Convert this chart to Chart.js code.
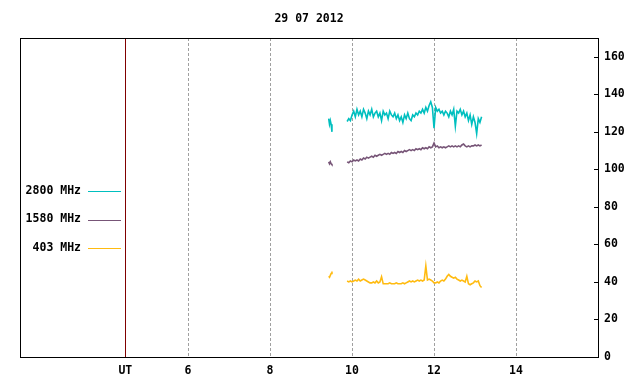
<!DOCTYPE html>
<html lang="en">
<head>
  <meta charset="UTF-8">
  <title>29 07 2012</title>
  <script src="https://cdn.jsdelivr.net/npm/chart.js"></script>
  <style>
    body { margin: 0; background: #fff; }
  </style>
</head>
<body>
  <canvas id="grafico" width="640" height="384"></canvas>
  <script>
    const titulo = '29 07 2012';
    const frequencias = ['2800 MHz', '1580 MHz', '403 MHz'];
    const cores = ['#00bfbf', '#775577', '#ffbb11'];

    // horas UT (null separa os dois trechos)
    const horas = [
      9.43, 9.45, 9.47, 9.49, 9.51, 9.70,
      9.88, 9.92, 9.96,
      10.00, 10.04, 10.08, 10.12, 10.16, 10.20, 10.24, 10.28, 10.32, 10.36, 10.40, 10.44, 10.48,
      10.52, 10.56, 10.60, 10.64, 10.68, 10.72, 10.76, 10.80, 10.84, 10.88, 10.92, 10.96,
      11.00, 11.04, 11.08, 11.12, 11.16, 11.20, 11.24, 11.28, 11.32, 11.36, 11.40, 11.44, 11.48,
      11.52, 11.56, 11.60, 11.64, 11.68, 11.72, 11.76, 11.80, 11.84, 11.88, 11.92, 11.96,
      12.00, 12.04, 12.08, 12.12, 12.16, 12.20, 12.24, 12.28, 12.32, 12.36, 12.40, 12.44, 12.48,
      12.52, 12.56, 12.60, 12.64, 12.68, 12.72, 12.76, 12.80, 12.84, 12.88, 12.92, 12.96,
      13.00, 13.04, 13.08, 13.12, 13.16
    ];

    const fluxo2800 = [
      127, 124, 126, 124, 120, null,
      125.5, 127, 126,
      129, 131, 128, 132, 129, 131, 128, 132, 130, 127, 131, 129, 132,
      128, 130, 131, 128, 130, 126, 131, 129, 130, 127, 131, 129,
      128, 130, 127, 129, 126, 128, 125, 129, 127, 130, 127, 126, 129,
      128, 130, 129, 131, 130, 132, 130, 133, 131, 134, 136, 133,
      122, 133, 131, 132, 130, 131, 129, 131, 130, 128, 131, 129, 132,
      123, 131, 130, 132, 129, 131, 128, 130, 126, 129, 124, 128,
      125, 119, 127, 125, 128
    ];

    const fluxo1580 = [
      104, 103, 104, 103, 102.5, null,
      104, 103.5, 104.5,
      104, 105, 104.5, 105, 104.5, 105.5, 105, 106, 105.5, 106.5, 106, 106.5, 107,
      106.5, 107.5, 107, 107.5, 108, 107.5, 108, 108.5, 108, 108.5, 108, 109,
      108.5, 109, 108.5, 109.5, 109, 109.5, 109, 110, 109.5, 110, 110.5, 110, 110.5,
      110, 111, 110.5, 111, 110.5, 111.5, 111, 111.5, 111, 112, 111.5, 112,
      114, 112, 112.5, 111.5, 112, 111.5, 112, 111.5, 112, 112.5, 112, 112.5, 112,
      112.5, 112, 112.5, 112, 113, 113.5, 112.5, 112, 112.5, 112, 112.5, 112.5,
      113, 112.5, 113, 112.5, 113
    ];

    const fluxo403 = [
      43, 42.5, 43.5, 44.5, 45.5, null,
      40.5, 40, 40.5,
      40, 40.5, 41, 40.5, 41.5, 40.5, 41, 41.5, 41, 40.5, 40, 39.5, 39.5,
      40, 39.5, 40.5, 39.5, 40, 42.8, 39, 39, 39, 39, 39.5, 39,
      39, 39, 39.5, 39, 39, 39, 39.5, 39, 39.5, 40, 40.5, 40, 40.5,
      40, 40.5, 41, 40.5, 41, 40.5, 41, 48.5, 41, 41.5, 41, 40.5,
      39.5, 39.5, 40, 39.5, 40.5, 41, 40.5, 41.5, 43, 44, 43, 42.5, 42,
      42.5, 41.5, 41, 40.5, 41, 40.5, 40, 43, 39, 38.5, 39, 39.5,
      40.5, 40, 40.5, 38, 37
    ];

    const posUT = 4.47;
    const ticksX = [posUT, 6, 8, 10, 12, 14];
    const ticksY = [0, 20, 40, 60, 80, 100, 120, 140, 160];

    const fonte = { family: "'DejaVu Sans Mono', monospace", size: 11.5, weight: 'bold' };
    const fonteCss = "bold 11.5px 'DejaVu Sans Mono', monospace";

    const series = [fluxo2800, fluxo1580, fluxo403];

    // moldura, linha UT, marcas do eixo y, título e legenda
    const moldura = {
      id: 'moldura',
      afterDraw(chart) {
        const { ctx, chartArea: a, scales } = chart;
        ctx.save();
        ctx.strokeStyle = '#000';
        ctx.lineWidth = 1;
        ctx.strokeRect(a.left + 0.5, a.top + 0.5, a.right - a.left, a.bottom - a.top);

        const xUT = Math.round(scales.x.getPixelForValue(posUT)) + 0.5;
        ctx.strokeStyle = '#800000';
        ctx.beginPath();
        ctx.moveTo(xUT, a.top + 1);
        ctx.lineTo(xUT, a.bottom);
        ctx.stroke();

        ctx.strokeStyle = '#000';
        ticksY.forEach(v => {
          const y = Math.round(scales.y.getPixelForValue(v)) + 0.5;
          ctx.beginPath();
          ctx.moveTo(a.right - 4, y);
          ctx.lineTo(a.right, y);
          ctx.stroke();
        });

        ctx.fillStyle = '#000';
        ctx.font = fonteCss;
        ctx.textAlign = 'center';
        ctx.textBaseline = 'middle';
        ctx.fillText(titulo, (a.left + a.right) / 2, 19);

        ctx.textAlign = 'right';
        frequencias.forEach((f, i) => {
          const y = 191 + i * 28.5;
          ctx.fillText(f, 81, y);
          ctx.strokeStyle = cores[i];
          ctx.beginPath();
          ctx.moveTo(88, Math.round(y) + 0.5);
          ctx.lineTo(121, Math.round(y) + 0.5);
          ctx.stroke();
        });
        ctx.restore();
      }
    };

    new Chart(document.getElementById('grafico'), {
      type: 'line',
      data: {
        datasets: series.map((s, i) => ({
          label: frequencias[i],
          data: horas.map((h, j) => ({ x: h, y: s[j] })),
          borderColor: cores[i],
          borderWidth: 1.6,
          pointRadius: 0,
          tension: 0,
          spanGaps: false
        }))
      },
      options: {
        responsive: false,
        animation: false,
        layout: { padding: { left: 20, top: 38, right: 0, bottom: 0 } },
        plugins: { legend: { display: false }, title: { display: false }, tooltip: { enabled: false } },
        scales: {
          x: {
            type: 'linear',
            min: 1.9,
            max: 16,
            afterBuildTicks: s => { s.ticks = ticksX.map(v => ({ value: v })); },
            afterFit: s => { s.height = 27; },
            grid: {
              color: c => c.tick && c.tick.value === posUT ? 'rgba(0,0,0,0)' : '#a0a0a0',
              drawTicks: false
            },
            border: { display: true, color: '#000', dash: [3, 2] },
            ticks: {
              color: '#000',
              font: fonte,
              padding: 7,
              maxRotation: 0,
              callback: v => v === posUT ? 'UT' : v
            }
          },
          y: {
            position: 'right',
            min: 0,
            max: 170,
            afterBuildTicks: s => { s.ticks = ticksY.map(v => ({ value: v })); },
            afterFit: s => { s.width = 42; },
            grid: { drawOnChartArea: false, drawTicks: false },
            border: { display: true, color: '#000' },
            ticks: { color: '#000', font: fonte, padding: 6, crossAlign: 'near' }
          }
        }
      },
      plugins: [moldura]
    });
  </script>
</body>
</html>
